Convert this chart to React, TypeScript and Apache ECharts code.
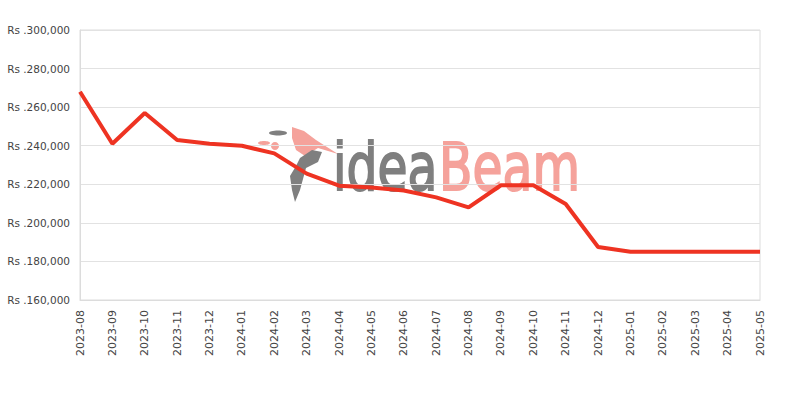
import React, { useEffect, useRef } from "react";
import * as echarts from "echarts";

const months = [
  "2023-08", "2023-09", "2023-10", "2023-11", "2023-12", "2024-01", "2024-02",
  "2024-03", "2024-04", "2024-05", "2024-06", "2024-07", "2024-08", "2024-09",
  "2024-10", "2024-11", "2024-12", "2025-01", "2025-02", "2025-03", "2025-04", "2025-05",
];
const prices = [
  268000, 241000, 257000, 243000, 241000, 240000, 236000,
  225500, 219300, 218300, 216800, 213200, 208000, 219500,
  219500, 209800, 187500, 185000, 185000, 185000, 185000, 185000,
];
const yMin = 160000;
const yMax = 300000;
const yStep = 20000;

export default function App() {
  const ref = useRef<HTMLDivElement>(null);
  useEffect(() => {
    document.body.style.margin = "0";
    if (!ref.current) return;
    const chart = echarts.init(ref.current, null, { renderer: "svg" });
    const grey = "#7f7f7f";
    const salmon = "#f5a29b";
    const logoFont = "66px 'DejaVu Sans'";
    chart.setOption({
      animation: false,
      grid: { left: 80, right: 40, top: 30, bottom: 100, show: true, borderColor: "#dcdcdc", borderWidth: 1 },
      graphic: [
        { type: "text", x: 333, y: 167, scaleX: 0.74, z: 0, style: { text: "idea", font: logoFont, fill: grey, stroke: grey, lineWidth: 2, verticalAlign: "middle", align: "left" } },
        { type: "text", x: 439, y: 167, scaleX: 0.74, z: 0, style: { text: "Beam", font: logoFont, fill: salmon, stroke: salmon, lineWidth: 2, verticalAlign: "middle", align: "left" } },
        { type: "polygon", z: 0, shape: { points: [[292, 127], [304, 131], [316, 140], [338, 154], [318, 148], [305, 156], [296, 150], [292, 138]] }, style: { fill: salmon } },
        { type: "polygon", z: 0, shape: { points: [[300, 158], [312, 150], [322, 152], [318, 162], [306, 168], [300, 190], [295, 202], [292, 190], [290, 176], [296, 166]] }, style: { fill: grey } },
        { type: "ellipse", z: 0, shape: { cx: 278, cy: 133, rx: 9, ry: 2.5 }, style: { fill: grey } },
        { type: "ellipse", z: 0, shape: { cx: 264, cy: 143, rx: 6, ry: 2 }, style: { fill: salmon } },
        { type: "ellipse", z: 0, shape: { cx: 275, cy: 146, rx: 4, ry: 4 }, style: { fill: salmon } },
      ],
      xAxis: {
        type: "category",
        data: months,
        boundaryGap: false,
        axisLine: { show: true, lineStyle: { color: "#dcdcdc" } },
        axisTick: { show: false },
        axisLabel: { rotate: 90, color: "#444", fontSize: 11, margin: 10, fontFamily: "DejaVu Sans" },
        splitLine: { show: false },
      },
      yAxis: {
        type: "value",
        min: yMin,
        max: yMax,
        interval: yStep,
        axisLine: { show: true, lineStyle: { color: "#dcdcdc" } },
        axisTick: { show: false },
        axisLabel: {
          color: "#444",
          fontSize: 10.5,
          margin: 10,
          fontFamily: "DejaVu Sans",
          formatter: (v: number) => "Rs ." + v.toLocaleString("en-US"),
        },
        splitLine: { show: true, lineStyle: { color: "#e2e2e2" } },
      },
      series: [
        {
          type: "line",
          data: prices,
          showSymbol: false,
          symbol: "none",
          z: 5,
          lineStyle: { color: "#ee3322", width: 4 },
        },
      ],
    });
    return () => chart.dispose();
  }, []);
  return <div ref={ref} style={{ width: 800, height: 400 }} />;
}
